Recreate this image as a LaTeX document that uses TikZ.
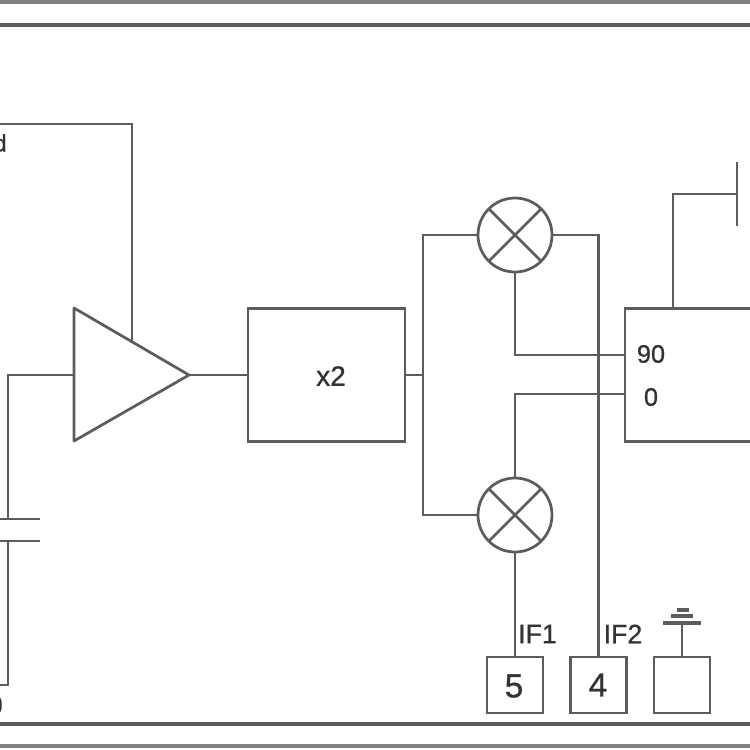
\documentclass[tikz,border=0pt]{standalone}
\usepackage{fontspec}
\setmainfont[FakeBold=0.8]{Liberation Sans}
\tikzset{
  wire/.style={draw=black!64,line width=2.05pt,line join=miter},
  box/.style={draw=black!64,line width=2.05pt,rectangle,outer sep=0pt,inner sep=0pt},
  mixer/.style={draw=black!64,line width=2.05pt,circle,minimum size=55.5pt,outer sep=0pt,inner sep=0pt},
  lab/.style={text=black!80,inner sep=0pt,font=\fontsize{19}{19}\selectfont},
  pinlab/.style={text=black!80,inner sep=0pt,font=\fontsize{25}{25}\selectfont},
  iflab/.style={text=black!80,inner sep=0pt,font=\fontsize{20}{20}\selectfont}
}
\begin{document}
\begin{tikzpicture}[x=0.75pt,y=-0.75pt]
\useasboundingbox (0,0) rectangle (750,750);
\clip (0,0) rectangle (750,750);
\fill[white] (0,0) rectangle (750,750);
% frame
\coordinate (fl1) at (-5,2); \coordinate (fr1) at (755,2);
\coordinate (fl2) at (-5,25); \coordinate (fr2) at (755,25);
\coordinate (fl3) at (-5,724); \coordinate (fr3) at (755,724);
\coordinate (fl4) at (-5,746); \coordinate (fr4) at (755,746);
\draw[wire,line width=3pt,draw=black!50] (fl1) -- (fr1);
\draw[wire,line width=2.6pt] (fl2) -- (fr2);
\draw[wire,line width=2.6pt] (fl3) -- (fr3);
\draw[wire,line width=3pt,draw=black!50] (fl4) -- (fr4);
% amplifier
\coordinate (ampA) at (74,308);
\coordinate (ampB) at (74,441);
\coordinate (ampC) at (189,375);
\coordinate (ampIn) at (74,375);
\coordinate (ampFb) at (132,341);
\draw[wire,line join=round] (ampA) -- (ampC) -- (ampB) -- cycle;
% blocks
\node[box,minimum width=117.75pt,minimum height=99.75pt] (dbl) at (326.5,375) {};
\node[lab,font=\fontsize{21}{21}\selectfont] at (331,376) {x2};
\node[box,minimum width=225pt,minimum height=99.75pt] (hyb) at (775,375) {};
\node[lab] (l90) at (651,354) {90};
\node[lab] (l0) at (651,397) {0};
\node[mixer] (m1) at (515,235) {};
\node[mixer] (m2) at (515,515) {};
\foreach \m in {m1,m2}{
  \draw[wire] (\m.45) -- (\m.225);
  \draw[wire] (\m.135) -- (\m.315);
}
\node[box,minimum size=42pt] (p5) at (515,685) {};
\node[pinlab] at (514,686) {5};
\node[box,minimum size=42pt] (p4) at (598.5,685) {};
\node[pinlab] at (598,685) {4};
\node[box,minimum size=42pt] (pg) at (682,685) {};
\node[iflab] at (537.5,634) {IF1};
\node[iflab] at (623,634) {IF2};
% input, feedback
\coordinate (fbL) at (-5,124);
\coordinate (fbC) at (132,124);
\draw[wire] (fbL) -- (fbC) -- (ampFb);
\coordinate (capT) at (8,519);
\coordinate (capB) at (8,541);
\coordinate (capTl) at (-5,519); \coordinate (capTr) at (40,519);
\coordinate (capBl) at (-5,541); \coordinate (capBr) at (40,541);
\coordinate (inC) at (8,375);
\coordinate (outC) at (8,685);
\coordinate (outL) at (-5,685);
\draw[wire] (ampIn) -- (inC) -- (capT);
\draw[wire] (capTl) -- (capTr);
\draw[wire] (capBl) -- (capBr);
\draw[wire] (capB) -- (outC) -- (outL);
\node[lab,anchor=east,font=\fontsize{18}{18}\selectfont] at (7,143) {d};
\node[lab,anchor=east,font=\fontsize{21}{21}\selectfont] at (3,705) {0};
% signal path
\draw[wire] (ampC) -- (dbl.west);
\coordinate (split) at (423,375);
\draw[wire] (dbl.east) -- (split);
\draw[wire] (m1.west) -| (split) |- (m2.west);
\draw[wire] (m1.south) |- (hyb.west |- 0,355);
\draw[wire] (m2.north) |- (hyb.west |- 0,394);
\draw[wire] (m1.east) -| (p4.north);
\draw[wire] (m2.south) -- (p5.north);
% ground
\coordinate (g0) at (682,623);
\coordinate (g1l) at (663,623); \coordinate (g1r) at (701,623);
\coordinate (g2l) at (671,616); \coordinate (g2r) at (693,616);
\coordinate (g3l) at (677,610); \coordinate (g3r) at (689,610);
\draw[wire] (pg.north) -- (g0);
\draw[wire,line width=2.6pt] (g1l) -- (g1r);
\draw[wire,line width=2.6pt] (g2l) -- (g2r);
\draw[wire,line width=2.6pt] (g3l) -- (g3r);
% stub
\coordinate (stA) at (673,308);
\coordinate (stB) at (673,194);
\coordinate (stC) at (737,194);
\coordinate (stT) at (737,162);
\coordinate (stD) at (737,226);
\draw[wire] (stA) -- (stB) -- (stC);
\draw[wire] (stT) -- (stD);
\end{tikzpicture}
\end{document}
